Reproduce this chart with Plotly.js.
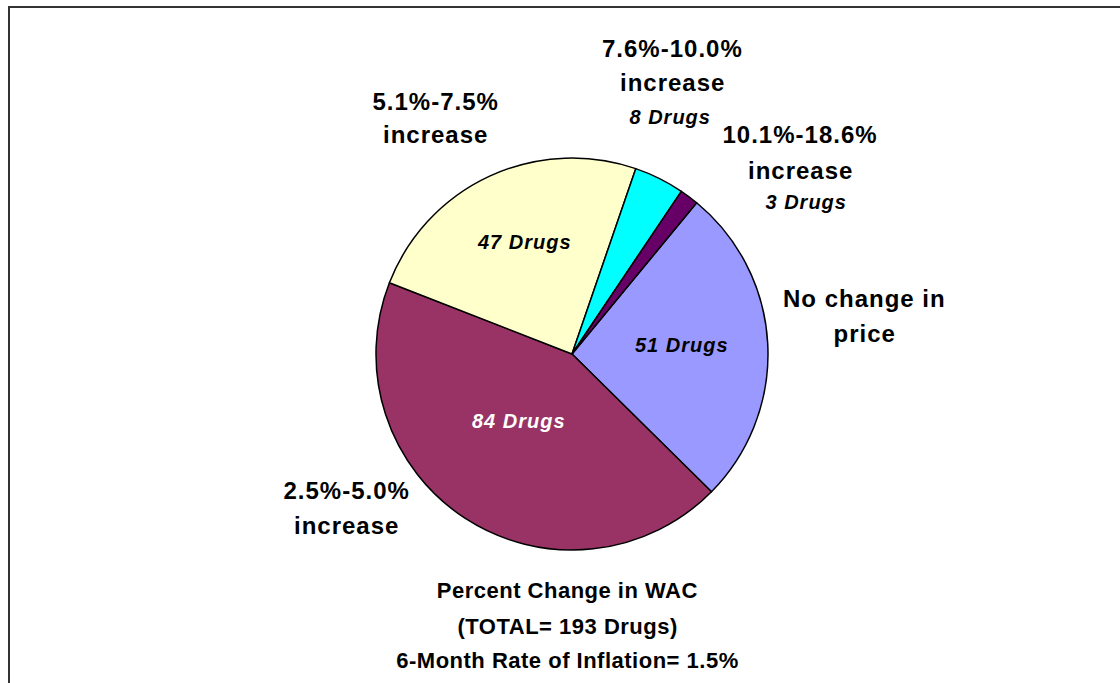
<!DOCTYPE html>
<html>
<head>
<meta charset="utf-8">
<script src="https://cdn.plot.ly/plotly-3.0.1.min.js"></script>
<style>
  html, body { margin: 0; padding: 0; background: #fff; }
  #chart { width: 1120px; height: 683px; }
</style>
</head>
<body>
<div id="chart"></div>
<script>
// ---- Data ----
var categories = ['No change in price', '2.5%-5.0% increase', '5.1%-7.5% increase', '7.6%-10.0% increase', '10.1%-18.6% increase'];
var categoryLines = [['No change in', 'price'], ['2.5%-5.0%', 'increase'], ['5.1%-7.5%', 'increase'], ['7.6%-10.0%', 'increase'], ['10.1%-18.6%', 'increase']];
var drugCounts = [51, 84, 47, 8, 3];
var sliceColors = ['#9999FF', '#993366', '#FFFFCC', '#00FFFF', '#660066'];
var titleLines = ['Percent Change in WAC', '(TOTAL= 193 Drugs)', '6-Month Rate of Inflation= 1.5%'];

// ---- Layout helpers (pixel positions converted to paper coords) ----
var W = 1120, H = 683;
function px(x) { return x / W; }
function py(y) { return 1 - y / H; }

var cx = 572, cy = 354, R = 196;

var catPos = [
  {x: 864, y: 298, dy: 35},
  {x: 346, y: 490, dy: 35},
  {x: 435, y: 101, dy: 34},
  {x: 672, y: 48, dy: 35},
  {x: 800, y: 135, dy: 35}
];
var countPos = [
  {x: 682, y: 345, color: '#000'},
  {x: 519, y: 421, color: '#fff'},
  {x: 524, y: 242, color: '#000'},
  {x: 670, y: 117, color: '#000'},
  {x: 806, y: 202, color: '#000'}
];

var FONT = '"Liberation Sans", Arial, sans-serif';
var annotations = [];
categoryLines.forEach(function (lines, i) {
  lines.forEach(function (t, j) {
    annotations.push({
      xref: 'paper', yref: 'paper', x: px(catPos[i].x), y: py(catPos[i].y + j * catPos[i].dy),
      xanchor: 'center', yanchor: 'middle', showarrow: false, text: t,
      font: {family: FONT, size: 24, color: '#000', weight: 'bold'}
    });
  });
});
drugCounts.forEach(function (v, i) {
  annotations.push({
    xref: 'paper', yref: 'paper', x: px(countPos[i].x), y: py(countPos[i].y),
    xanchor: 'center', yanchor: 'middle', showarrow: false, text: v + ' Drugs',
    font: {family: FONT, size: 20, color: countPos[i].color, weight: 'bold', style: 'italic'}
  });
});
var titleY = [590, 626, 660];
titleLines.forEach(function (t, j) {
  annotations.push({
    xref: 'paper', yref: 'paper', x: px(567), y: py(titleY[j]),
    xanchor: 'center', yanchor: 'middle', showarrow: false, text: t,
    font: {family: FONT, size: 22, color: '#000', weight: 'bold'}
  });
});

var trace = {
  type: 'pie',
  labels: categories,
  values: drugCounts,
  sort: false,
  direction: 'clockwise',
  rotation: 39.5,
  marker: {colors: sliceColors, line: {color: '#000', width: 1.5}},
  textinfo: 'none',
  hoverinfo: 'label+value',
  showlegend: false,
  domain: {x: [px(cx - R), px(cx + R)], y: [py(cy + R), py(cy - R)]}
};

var layout = {
  width: W, height: H,
  margin: {l: 0, r: 0, t: 0, b: 0},
  paper_bgcolor: '#fff',
  showlegend: false,
  annotations: annotations,
  shapes: [{
    type: 'rect', xref: 'paper', yref: 'paper',
    x0: px(9), x1: px(1140), y0: py(700), y1: py(7),
    line: {color: '#333', width: 2}, fillcolor: 'rgba(0,0,0,0)', layer: 'below'
  }]
};

Plotly.newPlot('chart', [trace], layout, {staticPlot: true}).then(function () {
  var texts = document.querySelectorAll('.annotation-text');
  texts.forEach(function (el) {
    var fs = parseFloat(el.style.fontSize || '0');
    var ls = fs >= 24 ? 1.0 : (fs >= 22 ? 0.5 : 1.0);
    el.style.letterSpacing = ls + 'px';
  });
});
</script>
</body>
</html>
